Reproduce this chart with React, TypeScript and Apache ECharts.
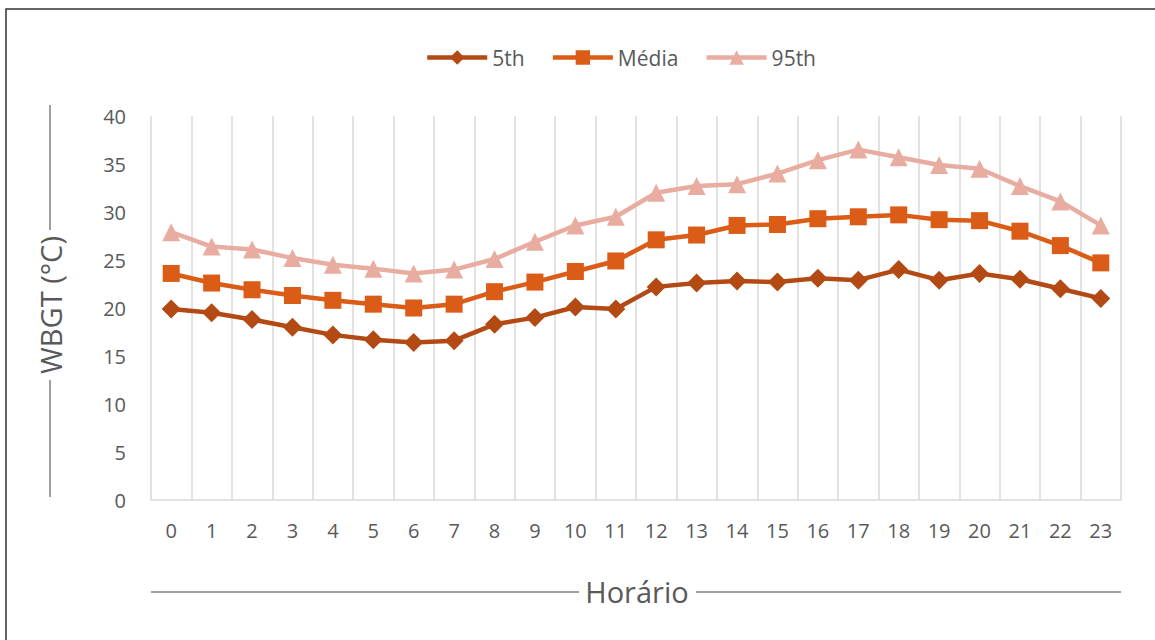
import React, { useEffect, useRef } from "react";
import * as echarts from "echarts";

const hours = ["0","1","2","3","4","5","6","7","8","9","10","11","12","13","14","15","16","17","18","19","20","21","22","23"];
const p5 = [19.9,19.5,18.8,18.0,17.2,16.7,16.4,16.6,18.3,19.0,20.1,19.9,22.2,22.6,22.8,22.7,23.1,22.9,24.0,22.9,23.6,23.0,22.0,21.0];
const media = [23.6,22.6,21.9,21.3,20.8,20.4,20.0,20.4,21.7,22.7,23.8,24.9,27.1,27.6,28.6,28.7,29.3,29.5,29.7,29.2,29.1,28.0,26.5,24.7];
const p95 = [27.9,26.4,26.1,25.2,24.5,24.1,23.6,24.0,25.1,26.9,28.6,29.5,32.0,32.7,32.9,34.0,35.4,36.5,35.7,34.9,34.5,32.7,31.1,28.6];

const FONT = "'Open Sans', 'Noto Sans', sans-serif";
const TEXT = "#595959";
const GRIDC = "#D9D9D9";

export default function App() {
  const ref = useRef<HTMLDivElement>(null);
  useEffect(() => {
    if (!ref.current) return;
    const chart = echarts.init(ref.current, undefined, { renderer: "svg" });
    const lineSeries = (name: string, data: number[], color: string, symbol: string, size: number) => ({
      name,
      type: "line",
      data,
      symbol,
      symbolSize: size,
      lineStyle: { color, width: 4.5 },
      itemStyle: { color },
    });
    chart.setOption({
      animation: false,
      textStyle: { fontFamily: FONT },
      legend: {
        top: 42,
        left: 420,
        itemWidth: 60,
        itemHeight: 18,
        itemGap: 26,
        lineStyle: { width: 4.5 },
        textStyle: { fontSize: 21, color: TEXT, fontFamily: FONT },
        data: ["5th", "Média", "95th"],
      },
      grid: { left: 151, right: 34, top: 116, bottom: 140, containLabel: false },
      xAxis: {
        type: "category",
        data: hours,
        boundaryGap: true,
        axisLine: { show: true, lineStyle: { color: GRIDC, width: 1.5 } },
        axisTick: { show: false },
        axisLabel: { fontSize: 20, color: TEXT, margin: 20, fontFamily: FONT },
        splitLine: { show: true, interval: 0, lineStyle: { color: GRIDC, width: 1.5 } },
      },
      yAxis: {
        type: "value",
        min: 0,
        max: 40,
        interval: 5,
        axisLine: { show: false },
        axisTick: { show: false },
        splitLine: { show: false },
        axisLabel: { fontSize: 20, color: TEXT, margin: 25, fontFamily: FONT },
      },
      series: [
        lineSeries("5th", p5, "#B34A14", "diamond", 19),
        lineSeries("Média", media, "#DB5C17", "rect", 17),
        lineSeries("95th", p95, "#E8ADA0", "triangle", 18),
      ],
      graphic: [
        {
          type: "rect",
          shape: { x: 6, y: 9, width: 1200, height: 700 },
          style: { fill: "none", stroke: "#333333", lineWidth: 1.5 },
          silent: true,
        },
        {
          type: "text",
          x: 50,
          y: 305,
          rotation: Math.PI / 2,
          style: {
            text: "WBGT (°C)",
            fontSize: 29,
            fill: TEXT,
            fontFamily: FONT,
            align: "center",
            verticalAlign: "middle",
          },
        },
        { type: "line", shape: { x1: 50, y1: 105, x2: 50, y2: 230 }, style: { stroke: "#808080", lineWidth: 1.5 } },
        { type: "line", shape: { x1: 50, y1: 380, x2: 50, y2: 497 }, style: { stroke: "#808080", lineWidth: 1.5 } },
        {
          type: "text",
          x: 637,
          y: 591,
          style: {
            text: "Horário",
            fontSize: 29,
            fill: TEXT,
            fontFamily: FONT,
            align: "center",
            verticalAlign: "middle",
          },
        },
        { type: "line", shape: { x1: 151, y1: 592, x2: 579, y2: 592 }, style: { stroke: "#808080", lineWidth: 1.5 } },
        { type: "line", shape: { x1: 696, y1: 592, x2: 1121, y2: 592 }, style: { stroke: "#808080", lineWidth: 1.5 } },
      ],
    });
    return () => chart.dispose();
  }, []);
  return (
    <div
      ref={ref}
      style={{ position: "fixed", left: 0, top: 0, width: 1155, height: 640, background: "#ffffff" }}
    />
  );
}
